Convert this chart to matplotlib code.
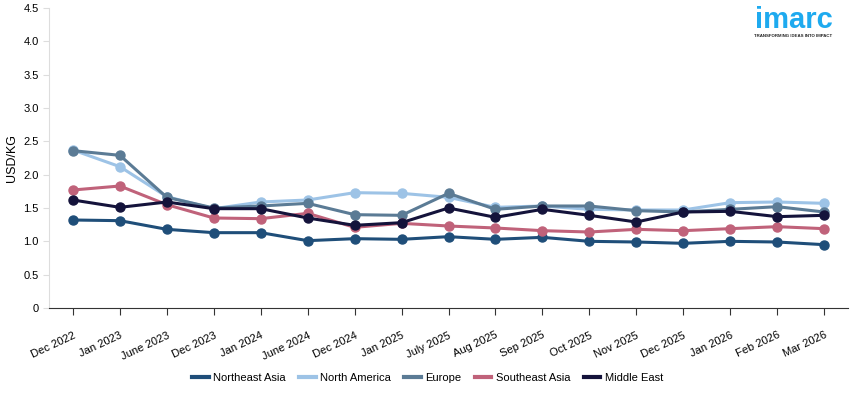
import numpy as np
import matplotlib.pyplot as plt

months = ["Dec 2022", "Jan 2023", "June 2023", "Dec 2023", "Jan 2024", "June 2024",
          "Dec 2024", "Jan 2025", "July 2025", "Aug 2025", "Sep 2025", "Oct 2025",
          "Nov 2025", "Dec 2025", "Jan 2026", "Feb 2026", "Mar 2026"]

northeast_asia = [1.32, 1.31, 1.18, 1.13, 1.13, 1.01, 1.04, 1.03, 1.07, 1.03, 1.06,
                  1.00, 0.99, 0.97, 1.00, 0.99, 0.95]
north_america = [2.37, 2.12, 1.67, 1.49, 1.59, 1.62, 1.73, 1.72, 1.66, 1.51, 1.53,
                 1.48, 1.47, 1.47, 1.58, 1.59, 1.57]
europe = [2.36, 2.29, 1.66, 1.50, 1.53, 1.57, 1.40, 1.39, 1.72, 1.48, 1.53,
          1.53, 1.46, 1.44, 1.48, 1.52, 1.44]
southeast_asia = [1.77, 1.83, 1.55, 1.35, 1.34, 1.42, 1.21, 1.27, 1.23, 1.20, 1.16,
                  1.14, 1.18, 1.16, 1.19, 1.22, 1.19]
middle_east = [1.62, 1.51, 1.59, 1.49, 1.49, 1.35, 1.24, 1.28, 1.50, 1.36, 1.48,
               1.39, 1.29, 1.44, 1.45, 1.37, 1.39]

series = [("Northeast Asia", northeast_asia, "#1f4e79"),
          ("North America", north_america, "#9dc3e6"),
          ("Europe", europe, "#5b7b95"),
          ("Southeast Asia", southeast_asia, "#c0627a"),
          ("Middle East", middle_east, "#14133b")]

plt.rcParams['font.family'] = ['Liberation Sans', 'DejaVu Sans']

fig = plt.figure(figsize=(8.55, 3.93), dpi=100)
ax = fig.add_axes([49/855, 85/393, 799/855, 300/393])

x = np.arange(len(months))
for name, vals, col in series:
    ax.plot(x, vals, color=col, lw=2.2, marker='o', ms=6.5, label=name)

ax.set_xlim(-0.51, len(months) - 0.49)
ax.set_ylim(0, 4.5)
ax.set_yticks(np.arange(0, 4.51, 0.5))
ax.set_yticklabels(["0"] + [f"{v:.1f}" for v in np.arange(0.5, 4.51, 0.5)])
ax.set_xticks(x)
ax.set_xticklabels(months, rotation=25, ha='right', rotation_mode='anchor')
ax.tick_params(axis='x', length=5, color='#333333', labelsize=8, pad=11)
ax.tick_params(axis='y', length=4, color='#dddddd', labelsize=8)
ax.set_ylabel("USD/KG", fontsize=9)

for s in ['top', 'right']:
    ax.spines[s].set_visible(False)
ax.spines['left'].set_color('#dddddd')
ax.spines['bottom'].set_color('#333333')

leg = fig.legend(loc='center', bbox_to_anchor=(0.5, 1 - 378/393), ncol=5, frameon=False,
                 fontsize=8, handlelength=1.5, handletextpad=0.4, columnspacing=1.2)
# legend handles: lines only
for h in leg.legend_handles:
    h.set_marker('')
    h.set_linewidth(3)

# logo
fig.text(0.928, 0.93, "imarc", color='#1eaaef', fontsize=21, fontweight='bold',
         ha='center', va='baseline')
fig.text(0.928, 0.913, "TRANSFORMING IDEAS INTO IMPACT", color='#222222', fontsize=3.2,
         ha='center', va='top', fontweight='bold')

fig.savefig("out.png", dpi=100)
